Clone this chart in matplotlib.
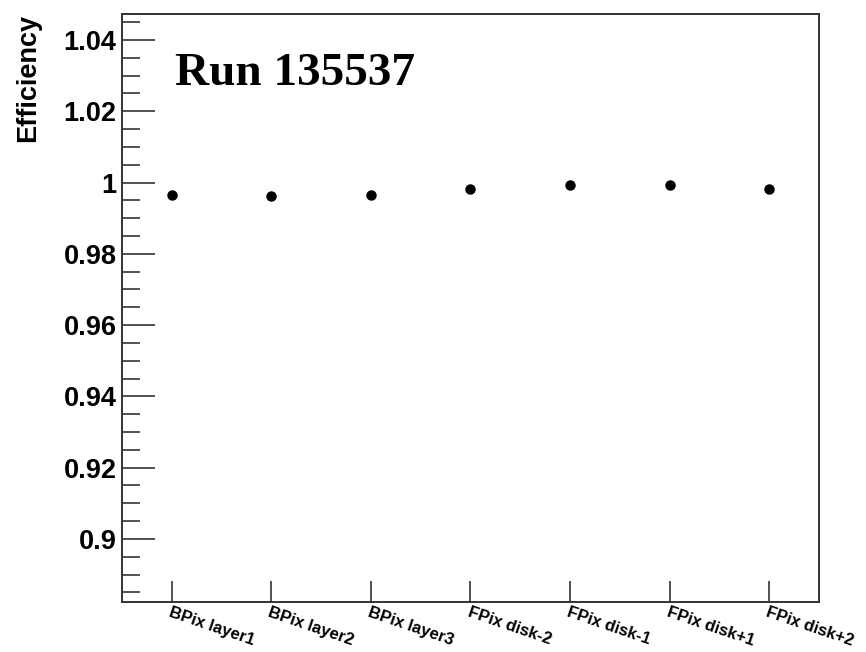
import numpy as np
import matplotlib
matplotlib.use("Agg")
import matplotlib.pyplot as plt
from matplotlib.ticker import MultipleLocator

# data
labels = ["BPix layer1", "BPix layer2", "BPix layer3",
          "FPix disk-2", "FPix disk-1", "FPix disk+1", "FPix disk+2"]
efficiency = [0.99663, 0.99615, 0.99663, 0.99831, 0.99944, 0.99944, 0.99831]
y_ticks = [0.90, 0.92, 0.94, 0.96, 0.98, 1.00, 1.02, 1.04]
y_tick_labels = ["0.9", "0.92", "0.94", "0.96", "0.98", "1", "1.02", "1.04"]

fig = plt.figure(figsize=(8.66, 6.52), dpi=100)
ax = fig.add_axes([0.1409, 0.0767, 0.8048, 0.9018])

x = np.arange(len(labels)) + 0.5
ax.plot(x, efficiency, "o", color="black", markersize=6.5, linestyle="none")

ax.set_xlim(0, len(labels))
ax.set_ylim(0.8823, 1.0473)

# axis ticks, ROOT style: inside, no right/top ticks
ax.set_yticks(y_ticks)
ax.set_yticklabels(y_tick_labels, fontfamily="Liberation Sans",
                   fontweight="bold", fontsize=19.5)
ax.yaxis.set_minor_locator(MultipleLocator(0.005))
ax.tick_params(axis="y", which="major", direction="in", length=24,
               width=1.2, color="#333333", pad=4)
ax.tick_params(axis="y", which="minor", direction="in", length=13,
               width=1.2, color="#333333")

ax.set_xticks(x)
ax.set_xticklabels(labels, rotation=-19, ha="left", va="top",
                   rotation_mode="anchor", fontfamily="Liberation Sans",
                   fontweight="bold", fontsize=12)
ax.tick_params(axis="x", which="major", direction="in", length=15,
               width=1.2, color="#333333", pad=2)

for s in ax.spines.values():
    s.set_linewidth(1.4)
    s.set_color("#333333")

ax.set_ylabel("Efficiency", fontfamily="Liberation Sans", fontweight="bold",
              fontsize=19.5, loc="top", labelpad=16)

ax.text(0.076, 0.879, "Run 135537", transform=ax.transAxes,
        fontfamily="Liberation Serif", fontweight="bold", fontsize=34,
        ha="left", va="baseline")

fig.savefig("out.png", dpi=100)
